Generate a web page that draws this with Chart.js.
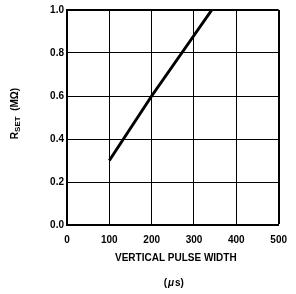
<!DOCTYPE html>
<html>
<head>
<meta charset="utf-8">
<script src="https://cdn.jsdelivr.net/npm/chart.js@4"></script>
<style>
  html, body { margin: 0; padding: 0; background: #fff; }
  #wrap { width: 296px; height: 294px; }
</style>
</head>
<body>
<div id="wrap"><canvas id="rsetChart" width="296" height="294"></canvas></div>
<script>
// data
var pulseWidth = [100, 200, 271, 342];
var rset = [0.3, 0.6, 0.8, 1.0];
var xTicks = [0, 100, 200, 300, 400, 500];
var yTicks = [0.0, 0.2, 0.4, 0.6, 0.8, 1.0];

var fontFamily = "'Liberation Sans', Arial, sans-serif";
var ink = '#000';

// axis titles, incl. the subscript on R_SET
var axisTitles = {
    id: 'axisTitles',
    afterDraw: function (chart) {
        var c = chart.ctx;
        var area = chart.chartArea;
        var cx = (area.left + area.right) / 2;
        c.save();
        c.fillStyle = ink;
        c.textBaseline = 'middle';

        // x title, two lines
        c.textAlign = 'center';
        c.font = 'bold 10px ' + fontFamily;
        c.fillText('VERTICAL PULSE WIDTH', cx + 3, 258);
        var unit = [['(', 'bold 10px '], ['\u03BC', 'italic bold 10px '], ['s)', 'bold 10px ']];
        var w = 0;
        unit.forEach(function (p) { c.font = p[1] + fontFamily; w += c.measureText(p[0]).width; });
        var ux = cx - w / 2;
        c.textAlign = 'left';
        unit.forEach(function (p) {
            c.font = p[1] + fontFamily;
            c.fillText(p[0], ux, 283);
            ux += c.measureText(p[0]).width + 1;
        });

        // y title, rotated
        c.translate(15, (area.top + area.bottom) / 2 - 4);
        c.rotate(-Math.PI / 2);
        var big = 'bold 10px ' + fontFamily;
        var small = 'bold 8px ' + fontFamily;
        var parts = [['R', big, 0], ['SET', small, 3], ['  (M\u03A9)', big, 0]];
        var total = 0;
        parts.forEach(function (p) { c.font = p[1]; total += c.measureText(p[0]).width; });
        var x = -total / 2;
        parts.forEach(function (p) {
            c.font = p[1];
            c.fillText(p[0], x, p[2]);
            x += c.measureText(p[0]).width;
        });
        c.restore();
    }
};

var points = pulseWidth.map(function (v, i) { return { x: v, y: rset[i] }; });

new Chart(document.getElementById('rsetChart'), {
    type: 'line',
    data: {
        datasets: [{
            data: points,
            borderColor: ink,
            borderWidth: 3,
            pointRadius: 0,
            tension: 0,
            fill: false
        }]
    },
    options: {
        responsive: false,
        animation: false,
        layout: { padding: { top: 10, right: 13, left: 0, bottom: 0 } },
        plugins: {
            legend: { display: false },
            tooltip: { enabled: false }
        },
        scales: {
            x: {
                type: 'linear',
                min: 0,
                max: 500,
                afterFit: function (s) { s.height = 69; },
                afterBuildTicks: function (s) { s.ticks = xTicks.map(function (v) { return { value: v }; }); },
                grid: {
                    color: ink,
                    lineWidth: function (ctx) { return ctx.index === xTicks.length - 1 ? 2 : 1; },
                    drawTicks: false
                },
                border: { color: ink, width: 2 },
                ticks: {
                    color: ink,
                    padding: 9,
                    font: { family: fontFamily, size: 10, weight: 'bold' },
                    maxRotation: 0
                }
            },
            y: {
                min: 0,
                max: 1,
                afterFit: function (s) { s.width = 67; },
                afterBuildTicks: function (s) { s.ticks = yTicks.map(function (v) { return { value: v }; }); },
                grid: {
                    color: ink,
                    lineWidth: function (ctx) { return ctx.index === yTicks.length - 1 ? 2 : 1; },
                    drawTicks: false
                },
                border: { color: ink, width: 2 },
                ticks: {
                    color: ink,
                    padding: 3,
                    font: { family: fontFamily, size: 10, weight: 'bold' },
                    callback: function (value) { return value.toFixed(1); }
                }
            }
        }
    },
    plugins: [axisTitles]
});
</script>
</body>
</html>
